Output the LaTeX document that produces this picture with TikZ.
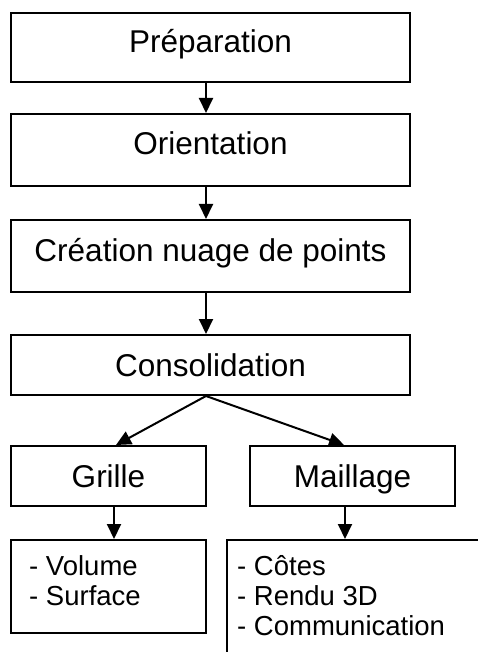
\documentclass[tikz,border=0pt]{standalone}
\usepackage{fontspec}
\setmainfont{Liberation Sans}
\usetikzlibrary{arrows.meta,calc}
\begin{document}
\begin{tikzpicture}[x=1pt,y=-1pt,
  box/.style={draw=black,line width=2pt,inner sep=0pt,anchor=north west,align=center,
    font=\fontsize{31.5}{36}\selectfont},
  lbox/.style={draw=black,line width=2pt,inner sep=0pt,anchor=north west},
  ltext/.style={inner sep=0pt,anchor=base west,font=\fontsize{27.5}{31}\selectfont},
  arr/.style={line width=2pt,-{Triangle[length=15pt,width=14pt]}}]
\useasboundingbox (0,0) rectangle (478,652);
\clip (0,0) rectangle (478,652);
\coordinate (ma) at (206,0);
\coordinate (ga) at (114,0);
\coordinate (mb) at (345,0);
\node[box,minimum width=399pt,text height=40pt,text depth=29pt] (p) at (10,12) {Préparation};
\node[box,minimum width=399pt,text height=41pt,text depth=31pt] (o) at (10,113) {Orientation};
\node[box,minimum width=399pt,text height=41pt,text depth=31pt] (n) at (10,219) {Création nuage de points};
\node[box,minimum width=399pt,text height=41pt,text depth=19pt] (c) at (10,334) {Consolidation};
\node[box,minimum width=195pt,text height=41pt,text depth=19pt] (g) at (10,445) {Grille};
\node[box,minimum width=205pt,text height=41pt,text depth=19pt] (m) at (249,445) {Maillage};
\node[lbox,minimum width=195pt,minimum height=93pt] (v) at (10,539) {};
\node[lbox,minimum width=280pt,minimum height=140pt] (k) at (226,539) {};
\node[ltext] (v1) at (29,575) {- Volume};
\node[ltext] (v2) at (29,605) {- Surface};
\node[ltext] (k1) at (237,575) {- Côtes};
\node[ltext] (k2) at (237,605) {- Rendu 3D};
\node[ltext] (k3) at (237,635) {- Communication};
\draw[arr] (p.south -| ma) -- (o.north -| ma);
\draw[arr] (o.south -| ma) -- (n.north -| ma);
\draw[arr] (n.south -| ma) -- (c.north -| ma);
\draw[arr] (c.south -| ma) -- ($(g.north)+(7.5,0)$);
\draw[arr] (c.south -| ma) -- ($(m.north)+(-8.5,0)$);
\draw[arr] (g.south -| ga) -- (v.north -| ga);
\draw[arr] (m.south -| mb) -- (k.north -| mb);
\end{tikzpicture}
\end{document}
